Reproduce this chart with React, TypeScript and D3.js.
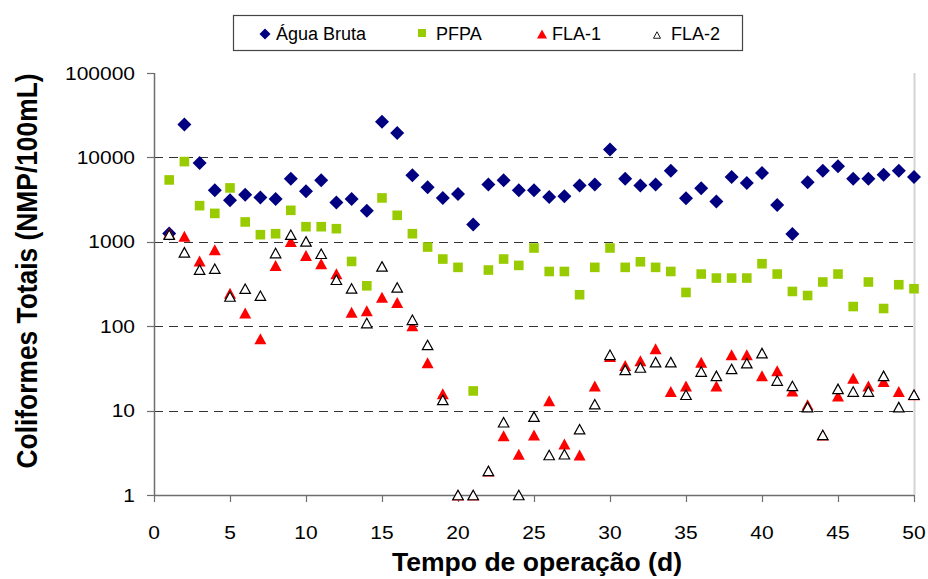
import React from "react";
import * as d3 from "d3";

const days = [1,2,3,4,5,6,7,8,9,10,11,12,13,14,15,16,17,18,19,20,21,22,23,24,25,26,27,28,29,30,31,32,33,34,35,36,37,38,39,40,41,42,43,44,45,46,47,48,49,50];

const aguaBruta = [1250,24500,8600,4070,3100,3620,3360,3220,5600,3960,5350,2930,3220,2340,26400,19500,6140,4420,3310,3690,1600,4760,5350,4070,4070,3400,3460,4630,4760,12380,5600,4630,4760,6970,3270,4300,3010,5870,4980,6550,2730,1237,5070,6970,7840,5600,5600,6250,6970,5870];
const pfpa = [5410,8920,2680,2170,4350,1718,1214,1247,2360,1510,1510,1430,585,301,3310,2060,1247,867,625,498,17.1,463,625,525,844,445,445,236,498,844,498,580,498,445,251,415,372,372,372,550,415,258,231,334,415,171,334,162,310,278];
const fla1 = [1250,1160,592,806,245,143,71,525,1011,690,550,418,146,152,221,191,101,37,15.8,1,1,1.93,5.05,3.04,5.15,13.1,4.03,2.98,19.6,43.7,34.2,38.9,53.9,16.8,19.6,37.5,19.6,45.8,45.8,25.8,29.6,17.1,11.7,5.15,14.9,24.2,19.6,22.1,16.8,15.4];
const fla2 = [1214,750,467,480,225,278,230,736,1214,1011,722,355,280,109,511,288,119,60,13.4,1,1,1.93,7.28,1,8.49,2.98,3.04,6.02,11.9,45.8,30.4,32.4,37.5,37.5,15.4,29,25.8,31.2,36.5,48,22.7,19.6,11,5.15,18.1,16.8,16.8,25.8,11,15.4];

const xTicks = [0,5,10,15,20,25,30,35,40,45,50];
const yTicks = [1,10,100,1000,10000,100000];
const gridTicks = [10,100,1000,10000];
const legendLabels = ["Água Bruta","PFPA","FLA-1","FLA-2"];

const FONT = "'Liberation Sans', Arial, sans-serif";

const diamond = (s: number) => `M0,${-s}L${s},0L0,${s}L${-s},0Z`;
const square = (s: number) => `M${-s},${-s}H${s}V${s}H${-s}Z`;
const tri = (w: number, h: number) => `M0,${-h / 2}L${w / 2},${h / 2}L${-w / 2},${h / 2}Z`;

export default function App() {
  const x = d3.scaleLinear().domain([0, 50]).range([154, 914]);
  const y = d3.scaleLog().domain([1, 100000]).range([495, 73]);
  const digitW = 11.67;

  return (
    <svg width={928} height={579} style={{ position: "absolute", left: 0, top: 0, background: "#fff" }} fontFamily={FONT}>
      <rect x={0} y={0} width={928} height={579} fill="#fff" />
      {/* right border */}
      <line x1={914.5} x2={914.5} y1={73} y2={495} stroke="#d4d4d4" strokeWidth={2} />
      {/* gridlines */}
      {gridTicks.map((t) => (
        <line key={t} x1={154} x2={914} y1={Math.round(y(t)) + 0.5} y2={Math.round(y(t)) + 0.5} stroke="#333" strokeWidth={1} strokeDasharray="9,6" />
      ))}
      {/* axes */}
      <line x1={154.5} x2={154.5} y1={73} y2={495} stroke="#6e6e6e" strokeWidth={1.5} />
      <line x1={154} x2={914} y1={495.5} y2={495.5} stroke="#6e6e6e" strokeWidth={1.5} />
      {yTicks.map((t) => (
        <g key={t}>
          <line x1={147} x2={154} y1={Math.round(y(t)) + 0.5} y2={Math.round(y(t)) + 0.5} stroke="#6e6e6e" strokeWidth={1.2} />
          <text x={135} y={y(t)} dy="0.35em" textAnchor="end" fontSize={19} fill="#000"
            textLength={String(t).length * digitW} lengthAdjust="spacingAndGlyphs">{String(t)}</text>
        </g>
      ))}
      {xTicks.map((t) => (
        <g key={t}>
          <line x1={Math.round(x(t)) + 0.5} x2={Math.round(x(t)) + 0.5} y1={495} y2={502} stroke="#6e6e6e" strokeWidth={1.2} />
          <text x={x(t)} y={532} dy="0.35em" textAnchor="middle" fontSize={19} fill="#000"
            textLength={String(t).length * digitW} lengthAdjust="spacingAndGlyphs">{String(t)}</text>
        </g>
      ))}
      {/* axis titles */}
      <text x={537} y={571} textAnchor="middle" fontSize={25.5} fontWeight="bold" textLength={290} lengthAdjust="spacingAndGlyphs">Tempo de operação (d)</text>
      <text transform="translate(37,271) scale(1.13,1) rotate(-90)" textAnchor="middle" fontSize={25.5} fontWeight="bold" textLength={395} lengthAdjust="spacingAndGlyphs">Coliformes Totais (NMP/100mL)</text>

      {/* series */}
      {days.map((d, i) => (
        <path key={"a" + d} d={diamond(7)} transform={`translate(${x(d)},${y(aguaBruta[i])})`} fill="#000080" />
      ))}
      {days.map((d, i) => (
        <path key={"p" + d} d={square(4.8)} transform={`translate(${x(d)},${y(pfpa[i])})`} fill="#99cc00" />
      ))}
      {days.map((d, i) => (
        <path key={"f1" + d} d={tri(12, 11)} transform={`translate(${x(d)},${y(fla1[i])})`} fill="#ff0000" />
      ))}
      {days.map((d, i) => (
        <path key={"f2" + d} d={tri(10.5, 9.5)} transform={`translate(${x(d)},${y(fla2[i])})`} fill="#fff" stroke="#000" strokeWidth={1.2} />
      ))}

      {/* legend */}
      <rect x={233.5} y={15.5} width={509} height={35} fill="#fff" stroke="#444" strokeWidth={1.2} />
      <path d={diamond(5.5)} transform="translate(265,34)" fill="#000080" />
      <text x={276} y={34} dy="0.35em" fontSize={18}>{legendLabels[0]}</text>
      <path d={square(4)} transform="translate(422,33)" fill="#99cc00" />
      <text x={436} y={34} dy="0.35em" fontSize={18}>{legendLabels[1]}</text>
      <path d={tri(10, 9)} transform="translate(542,34)" fill="#ff0000" />
      <text x={552} y={34} dy="0.35em" fontSize={18}>{legendLabels[2]}</text>
      <path d={tri(7, 6.5)} transform="translate(657,35)" fill="#fff" stroke="#000" strokeWidth={0.9} />
      <text x={671} y={34} dy="0.35em" fontSize={18}>{legendLabels[3]}</text>
    </svg>
  );
}
